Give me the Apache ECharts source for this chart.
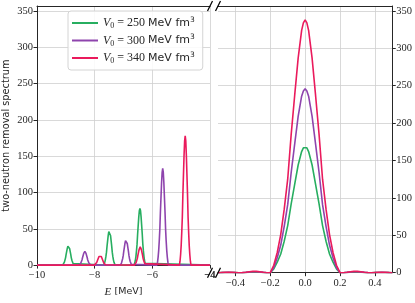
<!DOCTYPE html>
<html><head><meta charset="utf-8">
<script src="https://cdn.jsdelivr.net/npm/echarts@6/dist/echarts.min.js"></script>
<style>html,body{margin:0;padding:0;background:#fff}#c{width:415px;height:303px}</style>
</head><body><div id="c"></div>
<script>
// ---- data ----
const seriesNames = ['250', '300', '340'];
const seriesColors = ['#27ae60', '#8e44ad', '#ea1a5c'];

// normalised peak profile (offset in MeV -> relative height)
const profileOffsets = [-0.2,-0.18,-0.16,-0.14,-0.12,-0.10,-0.08,-0.06,-0.04,-0.02,0,0.02,0.04,0.06,0.08,0.10,0.12,0.14,0.16,0.18,0.2];
const profileShape   = [0,0.03,0.08,0.15,0.25,0.37,0.55,0.70,0.85,0.96,1,0.96,0.85,0.70,0.55,0.37,0.25,0.15,0.08,0.03,0];

// left panel peaks
const leftCenters250 = [-8.91, -7.49, -6.43];
const leftHeights250 = [27, 48, 78];
const leftCenters300 = [-8.34, -6.91, -5.64];
const leftHeights300 = [19, 35, 133];
const leftCenters340 = [-7.81, -6.42, -4.86];
const leftHeights340 = [14, 25, 178];

// right panel curves
const rightX = [-0.5,-0.48,-0.46,-0.44,-0.42,-0.4,-0.38,-0.36,-0.34,-0.32,-0.3,-0.28,-0.26,-0.24,-0.22,-0.2,-0.18,-0.16,-0.14,-0.12,-0.1,-0.08,-0.06,-0.04,-0.02,-0.01,0,
  0.01,0.02,0.04,0.06,0.08,0.1,0.12,0.14,0.16,0.18,0.2,0.22,0.24,0.26,0.28,0.3,0.32,0.34,0.36,0.38,0.4,0.42,0.44,0.46,0.48,0.5];
const right250 = [0,0.1,0.2,0.3,0.2,0.1,0,0,0.3,0.6,0.8,0.8,0.6,0.3,0,0,5,14,25,42,63,92,118,144,162,167,169,
  167,162,144,118,92,63,42,25,14,5,0,0,0.3,0.6,0.8,0.8,0.6,0.3,0,0,0.1,0.2,0.3,0.2,0.1,0];
const right300 = [0,0.1,0.3,0.4,0.3,0.1,0,0.1,0.4,0.9,1.2,1.2,0.9,0.4,0,0,7,20,37,62,91,134,172,209,236,243,246,
  243,236,209,172,134,91,62,37,20,7,0,0,0.4,0.9,1.2,1.2,0.9,0.4,0.1,0,0.1,0.3,0.4,0.3,0.1,0];
const right340 = [0,0.2,0.4,0.6,0.4,0.2,0,0.1,0.6,1.3,1.8,1.8,1.3,0.6,0,0,10,27,51,85,125,185,237,287,324,334,338,
  334,324,287,237,185,125,85,51,27,10,0,0,0.6,1.3,1.8,1.8,1.3,0.6,0.1,0,0.2,0.4,0.6,0.4,0.2,0];

const yTicks = [0,50,100,150,200,250,300,350];
const leftXTicks = [-10,-8,-6,-4];
const rightXTicks = [-0.4,-0.2,0,0.2,0.4];

// ---- build ----
function leftData(centers, heights) {
  const pts = [[-10, 0]];
  centers.forEach((c, i) => {
    profileOffsets.forEach((o, j) => pts.push([c + o, heights[i] * profileShape[j]]));
  });
  pts.push([-4, 0]);
  return pts;
}
function pair(xs, ys) { return xs.map((x, i) => [x, ys[i]]); }
const minus = s => String(s).replace('-', '\u2212');

const AX = '#262626', GRID = '#cfcfcf';
const SERIF = 'Liberation Serif';
const labelStyle = { color: AX, fontFamily: SERIF, fontSize: 10.5 };

const yCommon = {
  type: 'value', min: 0, max: 356.6,
  axisLine: { show: true, onZero: false, lineStyle: { color: AX, width: 1 } },
  axisTick: { show: true, inside: false, length: 3.5, customValues: yTicks, lineStyle: { color: AX } },
  axisLabel: Object.assign({ customValues: yTicks, margin: 4 }, labelStyle),
  splitLine: { show: true, lineStyle: { color: GRID, width: 0.8 } }
};
const topSpine = idx => ({
  type: 'value', gridIndex: idx, position: 'top',
  min: idx === 0 ? -10 : -0.5, max: idx === 0 ? -4 : 0.5,
  axisLine: { show: true, onZero: false, lineStyle: { color: AX, width: 1 } },
  axisTick: { show: false }, axisLabel: { show: false }, splitLine: { show: false }
});

const allLeft = [leftData(leftCenters250, leftHeights250), leftData(leftCenters300, leftHeights300), leftData(leftCenters340, leftHeights340)];
const allRight = [pair(rightX, right250), pair(rightX, right300), pair(rightX, right340)];

const series = [];
seriesNames.forEach((n, i) => {
  series.push({ name: n, type: 'line', xAxisIndex: 0, yAxisIndex: 0, data: allLeft[i], showSymbol: false, symbol: 'none',
    lineStyle: { color: seriesColors[i], width: 1.6 }, itemStyle: { color: seriesColors[i] }, z: 3 + i });
  series.push({ name: n, type: 'line', xAxisIndex: 1, yAxisIndex: 1, data: allRight[i], showSymbol: false, symbol: 'none',
    lineStyle: { color: seriesColors[i], width: 1.6 }, itemStyle: { color: seriesColors[i] }, z: 3 + i });
});

const brk = (cx, cy) => ({ type: 'line', shape: { x1: cx - 2.5, y1: cy + 5, x2: cx + 2.5, y2: cy - 5 },
  style: { stroke: '#000', lineWidth: 1.2 }, z: 100 });

const chart = echarts.init(document.getElementById('c'), null, { renderer: 'canvas' });
chart.setOption({
  animation: false,
  backgroundColor: '#fff',
  grid: [
    { left: 35, top: 6, width: 175, height: 266.7 },
    { left: 218, top: 6, width: 175, height: 266.7 }
  ],
  xAxis: [
    { type: 'value', gridIndex: 0, min: -10, max: -4, interval: 2, position: 'bottom',
      axisLine: { show: true, onZero: false, lineStyle: { color: AX, width: 1 } },
      axisTick: { show: true, length: 3.5, lineStyle: { color: AX } },
      axisLabel: Object.assign({ margin: 5, formatter: v => minus(v) }, labelStyle),
      splitLine: { show: true, lineStyle: { color: GRID, width: 0.8 } },
      name: '{e|E} {m|[MeV]}', nameLocation: 'middle', nameGap: 19,
      nameTextStyle: { rich: {
        e: { fontFamily: SERIF, fontStyle: 'italic', fontSize: 11, color: AX },
        m: { fontFamily: 'DejaVu Sans', fontSize: 9.5, color: AX } } } },
    { type: 'value', gridIndex: 1, min: -0.5, max: 0.5, position: 'bottom',
      axisLine: { show: true, onZero: false, lineStyle: { color: AX, width: 1 } },
      axisTick: { show: true, length: 3.5, customValues: rightXTicks, lineStyle: { color: AX } },
      axisLabel: Object.assign({ margin: 5, customValues: rightXTicks, formatter: v => minus(Number(v).toFixed(1)) }, labelStyle),
      splitLine: { show: true, lineStyle: { color: GRID, width: 0.8 } } },
    topSpine(0), topSpine(1)
  ],
  yAxis: [
    Object.assign({}, yCommon, { gridIndex: 0, position: 'left',
      name: 'two-neutron removal spectrum', nameLocation: 'middle', nameGap: 26,
      nameTextStyle: { fontFamily: 'DejaVu Sans', fontSize: 9.8, color: AX } }),
    Object.assign({}, yCommon, { gridIndex: 1, position: 'right' })
  ],
  legend: {
    data: seriesNames, orient: 'vertical', left: 68, top: 11,
    icon: 'rect', itemWidth: 26, itemHeight: 2, itemGap: 3.5,
    padding: [5, 8, 5, 4],
    borderColor: '#d4d4d4', borderWidth: 1, borderRadius: 3, backgroundColor: 'rgba(255,255,255,0.85)',
    formatter: n => '{v|V}{s|0}{t| = ' + n + ' }{u|MeV fm}{p|3}',
    textStyle: { color: AX, lineHeight: 14, rich: {
      v: { fontFamily: SERIF, fontStyle: 'italic', fontSize: 12, color: AX, lineHeight: 14 },
      s: { fontFamily: SERIF, fontSize: 8, color: AX, verticalAlign: 'bottom', lineHeight: 14 },
      t: { fontFamily: SERIF, fontSize: 12, color: AX, lineHeight: 14 },
      u: { fontFamily: 'DejaVu Sans', fontSize: 11, color: AX, lineHeight: 14 },
      p: { fontFamily: 'DejaVu Sans', fontSize: 7.5, color: AX, verticalAlign: 'top', lineHeight: 14 }
    } }
  },
  graphic: [brk(210, 6), brk(218, 6), brk(210, 272.7), brk(218, 272.7)],
  series: series
});

// the last tick label of the left panel (hidden by ECharts at the axis end) drawn as text at its tick
const lastTick = leftXTicks[leftXTicks.length - 1];
const px = chart.convertToPixel({ xAxisIndex: 0 }, lastTick);
const py = chart.convertToPixel({ yAxisIndex: 0 }, 0);
chart.setOption({
  graphic: [brk(210, 6), brk(218, 6), brk(210, 272.7), brk(218, 272.7),
    { type: 'text', x: px, y: py + 5, z: 50,
      style: { text: minus(lastTick), fill: AX, font: '10.5px "Liberation Serif"', align: 'center', verticalAlign: 'top' } }]
});
</script></body></html>
